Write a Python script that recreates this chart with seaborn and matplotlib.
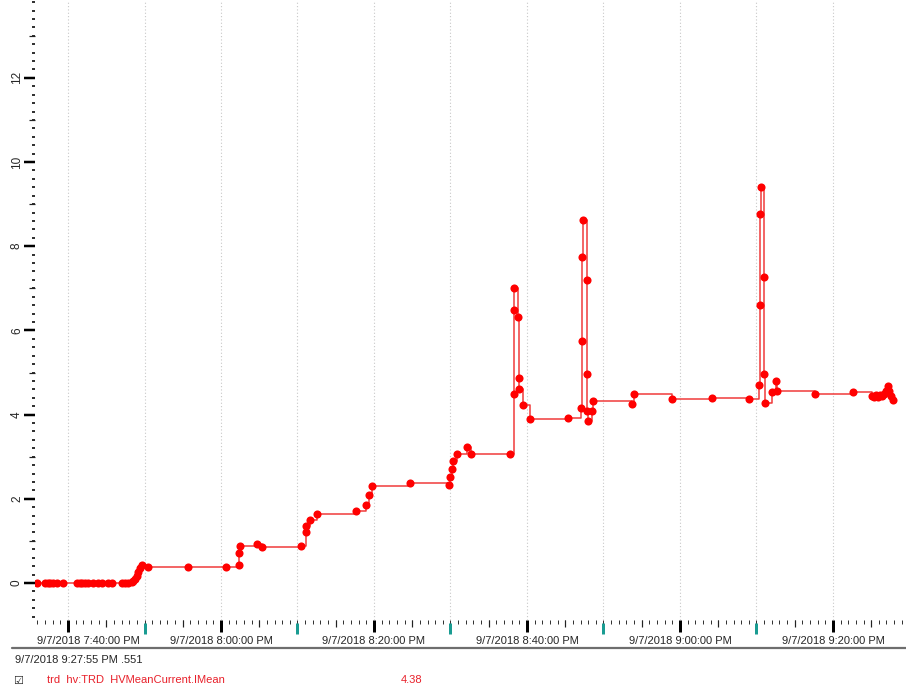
import matplotlib
matplotlib.use("Agg")
import matplotlib.pyplot as plt
import matplotlib.dates as mdates
from matplotlib.lines import Line2D
from matplotlib.ticker import FixedLocator, MultipleLocator, FuncFormatter
from matplotlib.transforms import ScaledTranslation
import seaborn as sns
import pandas as pd

sns.set_style("white")
plt.rcParams["font.family"] = ["Liberation Sans", "DejaVu Sans"]

day = "2018-09-07 "

# trend samples: time of day and HV mean current
times = [
    "19:35:54", "19:36:59", "19:37:26", "19:37:39", "19:38:05", "19:38:31", "19:39:23",
    "19:41:08", "19:41:34", "19:41:47", "19:42:13", "19:42:39", "19:43:19", "19:43:58",
    "19:44:24", "19:45:16", "19:45:43", "19:47:01", "19:47:27", "19:47:53",
    "19:48:19", "19:48:32", "19:48:46", "19:48:59", "19:49:11", "19:49:25", "19:49:38",
    "19:50:30", "19:55:41", "20:00:37", "20:02:23", "20:02:25", "20:02:31", "20:04:40",
    "20:05:19", "20:10:28",
    "20:11:07", "20:11:09", "20:11:38", "20:12:35", "20:17:37", "20:18:55", "20:19:21",
    "20:19:44", "20:24:43",
    "20:29:48", "20:29:56", "20:30:14", "20:30:22", "20:30:53", "20:32:12", "20:32:38",
    "20:37:47",
    "20:38:18", "20:38:20", "20:38:22", "20:38:49", "20:38:57", "20:38:59", "20:39:31",
    "20:40:26", "20:45:24",
    "20:47:01", "20:47:09", "20:47:11", "20:47:17", "20:47:48", "20:47:50", "20:47:52",
    "20:47:56", "20:48:32", "20:48:34",
    "20:53:41", "20:53:59", "20:58:59", "21:04:08", "21:09:04",
    "21:10:22", "21:10:24", "21:10:26", "21:10:33", "21:11:01", "21:11:03", "21:11:05",
    "21:11:59", "21:12:33", "21:12:43",
    "21:17:39", "21:22:39", "21:25:04", "21:25:22", "21:25:37", "21:25:53", "21:26:08",
    "21:26:24", "21:26:39", "21:26:55", "21:27:14", "21:27:23", "21:27:35", "21:27:53",
]
values = [
    0, 0, 0, 0, 0, 0, 0,
    0, 0, 0, 0, 0, 0, 0,
    0, 0, 0, 0, 0, 0,
    0.02, 0.05, 0.10, 0.16, 0.25, 0.35, 0.42,
    0.39, 0.39, 0.39, 0.42, 0.70, 0.87, 0.92,
    0.86, 0.87,
    1.20, 1.36, 1.50, 1.64, 1.70, 1.86, 2.09,
    2.30, 2.37,
    2.33, 2.52, 2.70, 2.89, 3.06, 3.24, 3.06,
    3.06,
    4.50, 6.48, 7.01, 6.32, 4.87, 4.60, 4.23,
    3.90, 3.93,
    4.15, 5.76, 7.74, 8.62, 7.20, 4.96, 4.09,
    3.85, 4.09, 4.32,
    4.24, 4.48, 4.37, 4.40, 4.37,
    4.70, 6.60, 8.76, 9.41, 7.28, 4.96, 4.28,
    4.54, 4.80, 4.55,
    4.50, 4.54, 4.45, 4.42, 4.46, 4.42, 4.47,
    4.43, 4.50, 4.55, 4.68, 4.55, 4.45, 4.35,
]

df = pd.DataFrame({"time": pd.to_datetime([day + t for t in times]), "value": values})

W, H = 906, 687
PT = 0.72  # points per pixel at 100 dpi
fig = plt.figure(figsize=(W / 100, H / 100), dpi=100)
ax_left, ax_bottom = 35, 620
ax_w, ax_h = W - ax_left, ax_bottom
ax = fig.add_axes([ax_left / W, 1 - ax_bottom / H, ax_w / W, ax_h / H])

sns.lineplot(data=df, x="time", y="value", ax=ax, drawstyle="steps-post",
             color="#f03a3a", linewidth=1.1, estimator=None, sort=False,
             legend=False, zorder=2)
sns.scatterplot(data=df, x="time", y="value", ax=ax, color="#ff0000", s=34,
                linewidth=0, zorder=3, legend=False)

ax.set_xlim(pd.Timestamp(day + "19:35:41"), pd.Timestamp(day + "21:29:33"))
ax.set_ylim(-0.88, 13.85)
ax.set_xlabel("")
ax.set_ylabel("")
for s in ax.spines.values():
    s.set_visible(False)


def time_label(v, pos):
    dt = mdates.num2date(v)
    return f"{dt.month}/{dt.day}/{dt.year} {dt.hour - 12}:{dt.minute:02d}:{dt.second:02d} PM"


label_times = pd.date_range(day + "19:40", day + "21:20", freq="20min")
ax.xaxis.set_major_locator(FixedLocator(mdates.date2num(label_times)))
ax.xaxis.set_minor_locator(mdates.MinuteLocator())
ax.xaxis.set_major_formatter(FuncFormatter(time_label))
ax.tick_params(axis="x", which="major", bottom=True, length=12 * PT, width=3 * PT,
               color="black", pad=4 * PT, labelsize=8)
ax.tick_params(axis="x", which="minor", bottom=True, length=4 * PT, width=1 * PT,
               color="#333333")

# first label is pushed right so it stays inside the plot
first = ax.xaxis.get_major_ticks()[0].label1
first.set_transform(first.get_transform() + ScaledTranslation(0.2, 0, fig.dpi_scale_trans))

# 5-minute and 10-minute marks, vertical dotted grid every 10 minutes
five = pd.date_range(day + "19:40", day + "21:25", freq="5min")
medium = [t for t in five if t.minute % 10 == 5]
teal = [t for t in five if t.minute % 20 == 10]
ten = [t for t in five if t.minute % 10 == 0]
xtr = ax.get_xaxis_transform()
ax.vlines(mdates.date2num(medium), -7 / ax_h, 0, transform=xtr, clip_on=False,
          color="#222222", lw=1.2 * PT)
ax.vlines(mdates.date2num(teal), -14 / ax_h, -3 / ax_h, transform=xtr, clip_on=False,
          color="#1a9c92", lw=3 * PT)
ax.vlines(mdates.date2num(ten), 0, 1, transform=xtr, color="#c8c8c8", lw=0.8,
          linestyle=(0, (1, 2)), zorder=0)

ax.yaxis.set_major_locator(MultipleLocator(2))
ax.yaxis.set_minor_locator(MultipleLocator(0.2))
ax.tick_params(axis="y", which="major", left=True, length=11 * PT, width=2.5 * PT,
               color="black", pad=1 * PT, labelsize=8.5, labelrotation=90)
ax.tick_params(axis="y", which="minor", left=True, length=3 * PT, width=2 * PT,
               color="#333333")
for lbl in ax.get_yticklabels():
    lbl.set_verticalalignment("center")
odd = [1, 3, 5, 7, 9, 11, 13]
ytr = ax.get_yaxis_transform()
ax.hlines(odd, -6 / ax_w, 0, transform=ytr, clip_on=False, color="#222222", lw=1.2 * PT)

# status area below the chart
fig.add_artist(Line2D([12 / W, 1], [1 - 648 / H] * 2, color="#6e6e6e", lw=1.6))
fig.text(15 / W, 1 - 660 / H, "9/7/2018 9:27:55 PM .551", fontsize=8, va="center")
fig.text(47 / W, 1 - 680 / H, "trd  hv:TRD  HVMeanCurrent.IMean", fontsize=8,
         va="center", color="#e8202a")
fig.text(401 / W, 1 - 680 / H, "4.38", fontsize=8, va="center", color="#e8202a")
fig.text(13 / W, 1 - 686 / H, "\u2611", fontsize=8, va="bottom", family=["DejaVu Sans"])

fig.savefig("out.png", dpi=100)
